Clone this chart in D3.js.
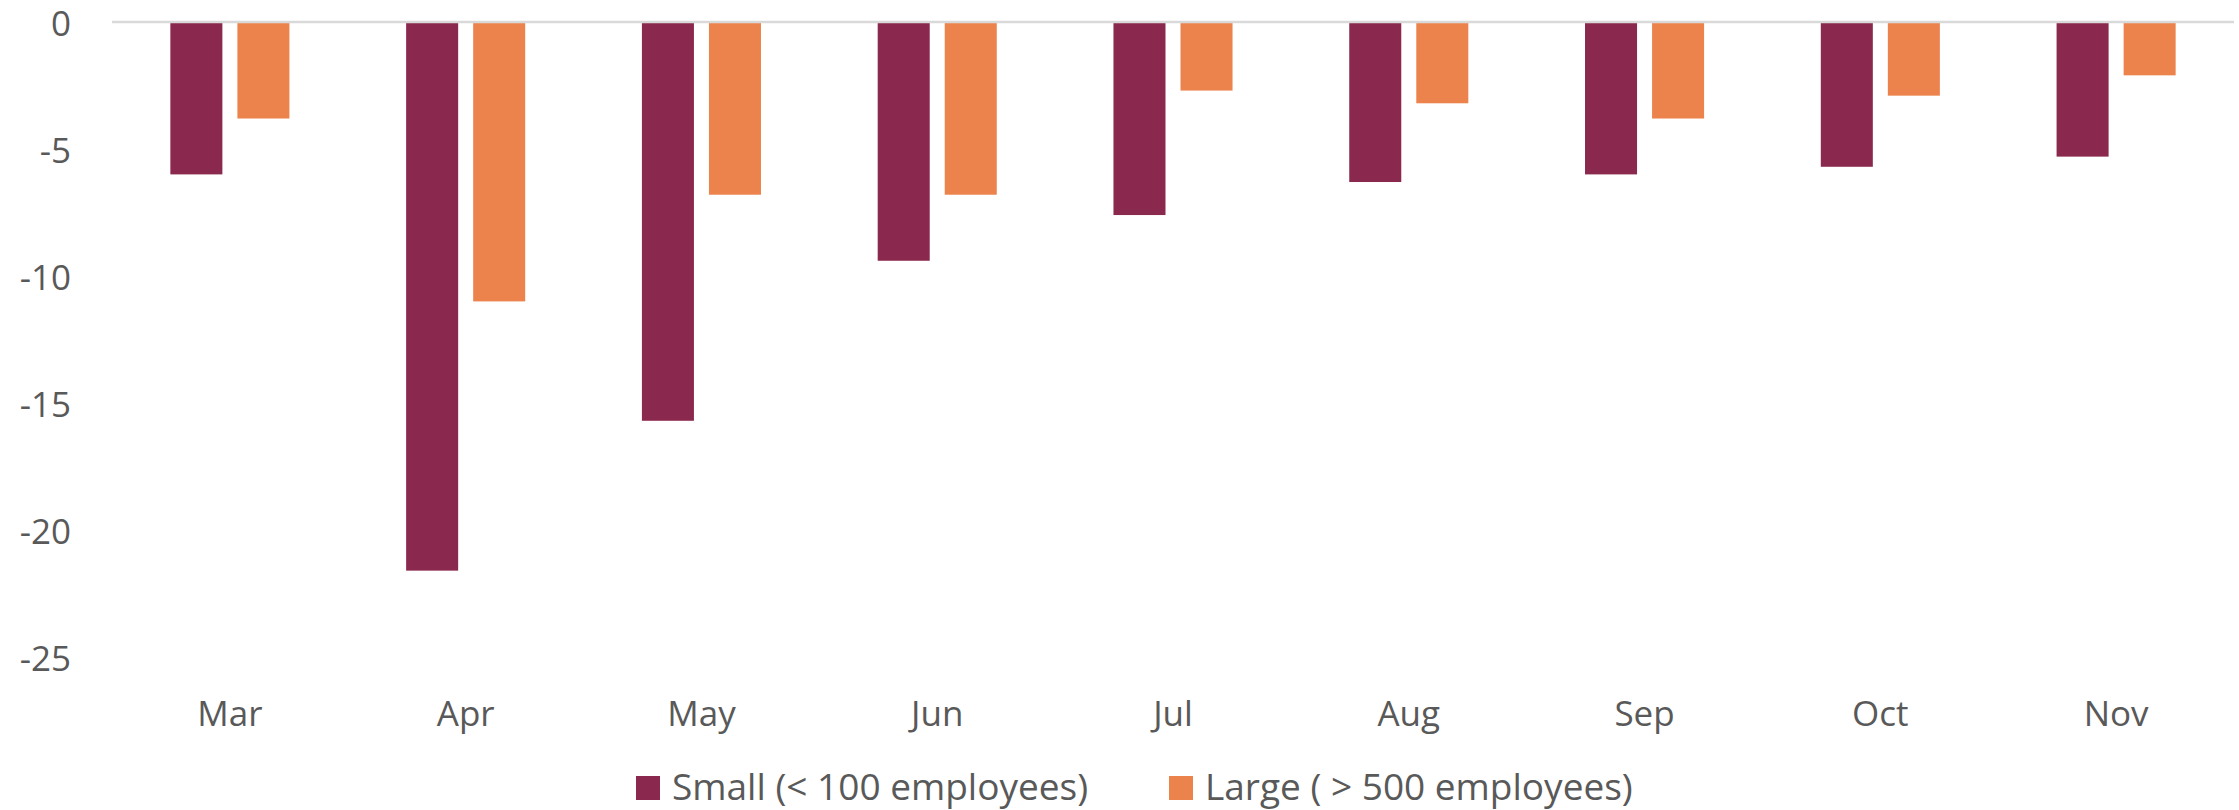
<!DOCTYPE html>
<html>
<head>
<meta charset="utf-8">
<script src="https://cdn.jsdelivr.net/npm/d3@7"></script>
<style>
  html, body { margin: 0; padding: 0; background: #fff; }
  svg { display: block; }
  text { font-family: "Open Sans", Lato, sans-serif; fill: #595959; }
</style>
</head>
<body>
<svg id="chart" width="2239" height="810"></svg>
<script>
// Monthly change by firm size
const months = ["Mar", "Apr", "May", "Jun", "Jul", "Aug", "Sep", "Oct", "Nov"];
const smallFirms = [-6.0, -21.6, -15.7, -9.4, -7.6, -6.3, -6.0, -5.7, -5.3];
const largeFirms = [-3.8, -11.0, -6.8, -6.8, -2.7, -3.2, -3.8, -2.9, -2.1];
const seriesNames = ["Small (< 100 employees)", "Large ( > 500 employees)"];
const seriesColors = ["#8B284D", "#ED834C"];
const yTicks = [0, -5, -10, -15, -20, -25];

const FONT = "'Open Sans', Lato, sans-serif";
const FONT_SIZE = 35;
const LEGEND_FONT_SIZE = 37;

const svg = d3.select("#chart");
const plotLeft = 112, plotRight = 2234, plotTop = 22, plotBottom = 657;

const x = d3.scaleBand()
  .domain(months)
  .range([plotLeft, plotRight])
  .paddingInner(0.495)
  .paddingOuter(0.2475);

const xInner = d3.scaleBand()
  .domain([0, 1])
  .range([0, x.bandwidth()])
  .paddingInner(0.224);

const y = d3.scaleLinear().domain([-25, 0]).range([plotBottom, plotTop]);

// y-axis labels (no axis line, no ticks), plain hyphen for negatives
const yAxis = d3.axisLeft(y).tickValues(yTicks).tickSize(0).tickPadding(0)
  .tickFormat(d => String(d));
svg.append("g")
  .attr("transform", `translate(71,0)`)
  .call(yAxis)
  .call(g => g.select(".domain").remove())
  .call(g => g.selectAll("text")
    .attr("dy", 13)
    .attr("font-size", FONT_SIZE)
    .attr("font-family", FONT)
    .attr("fill", "#595959"));

// bars
const series = [smallFirms, largeFirms];
series.forEach((vals, si) => {
  svg.append("g").selectAll("rect")
    .data(vals)
    .join("rect")
    .attr("x", (d, i) => x(months[i]) + xInner(si))
    .attr("width", xInner.bandwidth())
    .attr("y", d => y(Math.max(0, d)))
    .attr("height", d => Math.abs(y(d) - y(0)))
    .attr("fill", seriesColors[si]);
});

// zero baseline
svg.append("line")
  .attr("x1", plotLeft).attr("x2", plotRight)
  .attr("y1", y(0)).attr("y2", y(0))
  .attr("stroke", "#D9D9D9").attr("stroke-width", 2.5);

// month labels
const xAxis = d3.axisBottom(x).tickSize(0).tickPadding(0);
svg.append("g")
  .call(xAxis)
  .call(g => g.select(".domain").remove())
  .call(g => g.selectAll("text")
    .attr("y", 726).attr("dy", 0)
    .attr("font-size", FONT_SIZE)
    .attr("font-family", FONT)
    .attr("fill", "#595959"));

// legend
const legendX = [636, 1169];
const legend = svg.append("g");
seriesNames.forEach((name, i) => {
  const g = legend.append("g").attr("transform", `translate(${legendX[i]},776)`);
  g.append("rect").attr("width", 24).attr("height", 24).attr("fill", seriesColors[i]);
  g.append("text").attr("x", 36).attr("y", 24)
    .attr("font-size", LEGEND_FONT_SIZE).attr("font-family", FONT).text(name);
});
</script>
</body>
</html>
